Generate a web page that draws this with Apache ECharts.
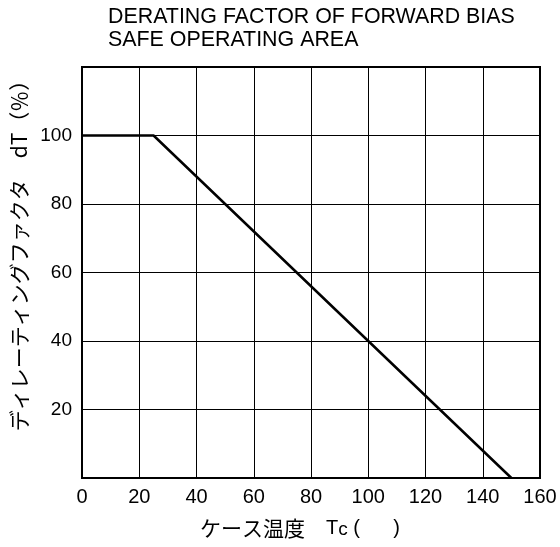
<!DOCTYPE html>
<html>
<head>
<meta charset="utf-8">
<script src="https://cdn.jsdelivr.net/npm/echarts@6/dist/echarts.min.js"></script>
<style>
html,body{margin:0;padding:0;background:#fff;}
#chart{width:560px;height:547px;}
</style>
</head>
<body>
<div id="chart"></div>
<script>
// Data
const caseTemp = [0, 25, 150];        // Tc
const derating = [100, 100, 0];       // dT (%)
const xTicks = [0, 20, 40, 60, 80, 100, 120, 140, 160];
const yTicks = [20, 40, 60, 80, 100];
const titleText = 'DERATING FACTOR OF FORWARD BIAS\nSAFE OPERATING AREA';
const yName = 'ディレーティングファクタ　dT（％）';
const xNameMain = 'ケース温度　';

const latin = '"Liberation Sans", Arial, sans-serif';
const cjk = '"Noto Sans CJK JP", "Liberation Sans", sans-serif';

const chart = echarts.init(document.getElementById('chart'), null, {renderer: 'canvas'});
chart.setOption({
  animation: false,
  backgroundColor: '#fff',
  title: {
    text: titleText,
    left: 108, top: 6, padding: 0,
    textStyle: {fontFamily: latin, fontSize: 21.4, fontWeight: 'normal', color: '#000', lineHeight: 23}
  },
  grid: {left: 82, right: 20, top: 67, bottom: 69, show: true, borderColor: '#000', borderWidth: 2, containLabel: false},
  xAxis: {
    type: 'value', min: 0, max: 160, interval: 20,
    name: '{a|' + xNameMain + '}{b|T}{c|c}{b| (      )}',
    nameLocation: 'middle', nameGap: 40,
    nameTextStyle: {
      padding: [0, 22, 0, 0],
      rich: {
        a: {fontFamily: cjk, fontSize: 21, color: '#000'},
        b: {fontFamily: latin, fontSize: 20, color: '#000'},
        c: {fontFamily: latin, fontSize: 19, color: '#000', padding: [2, 0, 0, 0]}
      }
    },
    axisLine: {show: true, lineStyle: {color: '#000', width: 2}},
    axisTick: {show: false},
    axisLabel: {fontFamily: latin, fontSize: 20, color: '#000', margin: 9,
      formatter: v => xTicks.includes(v) ? String(v) : ''},
    splitLine: {show: true, lineStyle: {color: '#000', width: 1}}
  },
  yAxis: {
    type: 'value', min: 0, max: 120, interval: 20,
    name: yName,
    nameLocation: 'middle', nameGap: 47,
    nameTextStyle: {fontFamily: cjk, fontSize: 21, color: '#000', padding: [0, 0, 0, 44]},
    axisLine: {show: true, lineStyle: {color: '#000', width: 2}},
    axisTick: {show: false},
    axisLabel: {fontFamily: latin, fontSize: 19, color: '#000', margin: 10,
      formatter: v => yTicks.includes(v) ? String(v) : ''},
    splitLine: {show: true, lineStyle: {color: '#000', width: 1}}
  },
  series: [{
    type: 'line',
    data: caseTemp.map((x, i) => [x, derating[i]]),
    showSymbol: false,
    symbol: 'none',
    lineStyle: {color: '#000', width: 2.5},
    clip: false
  }]
});
</script>
</body>
</html>
